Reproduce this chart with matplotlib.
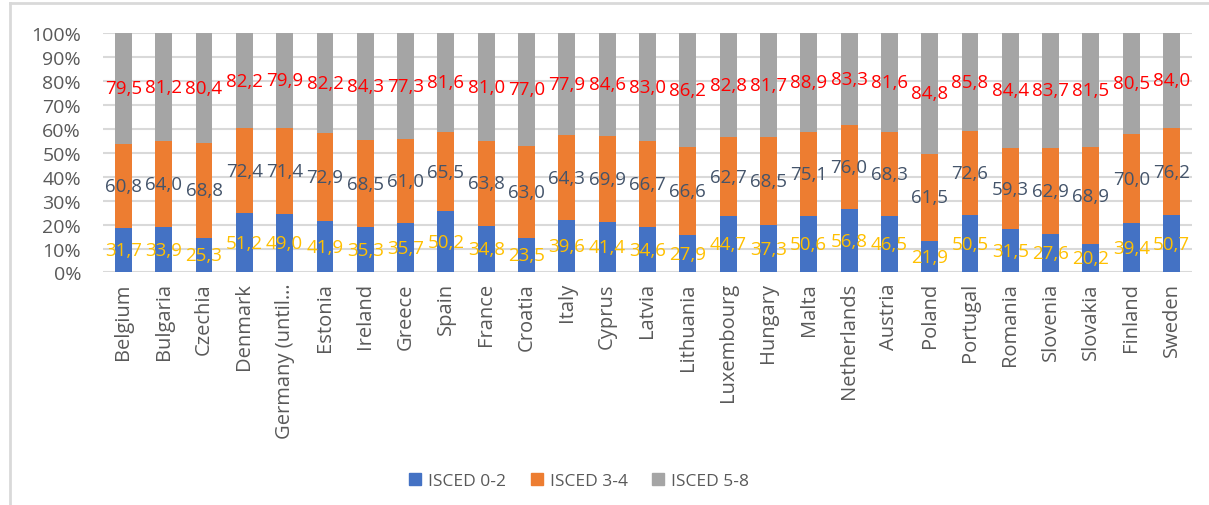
import numpy as np
import matplotlib.pyplot as plt
from matplotlib.lines import Line2D

countries = ["Belgium", "Bulgaria", "Czechia", "Denmark", "Germany (until…", "Estonia",
             "Ireland", "Greece", "Spain", "France", "Croatia", "Italy", "Cyprus",
             "Latvia", "Lithuania", "Luxembourg", "Hungary", "Malta", "Netherlands",
             "Austria", "Poland", "Portugal", "Romania", "Slovenia", "Slovakia",
             "Finland", "Sweden"]

isced_0_2 = [31.7, 33.9, 25.3, 51.2, 49.0, 41.9, 35.3, 35.7, 50.2, 34.8, 23.5, 39.6, 41.4,
             34.6, 27.9, 44.7, 37.3, 50.6, 56.8, 46.5, 21.9, 50.5, 31.5, 27.6, 20.2, 39.4, 50.7]
isced_3_4 = [60.8, 64.0, 68.8, 72.4, 71.4, 72.9, 68.5, 61.0, 65.5, 63.8, 63.0, 64.3, 69.9,
             66.7, 66.6, 62.7, 68.5, 75.1, 76.0, 68.3, 61.5, 72.6, 59.3, 62.9, 68.9, 70.0, 76.2]
isced_5_8 = [79.5, 81.2, 80.4, 82.2, 79.9, 82.2, 84.3, 77.3, 81.6, 81.0, 77.0, 77.9, 84.6,
             83.0, 86.2, 82.8, 81.7, 88.9, 83.3, 81.6, 84.8, 85.8, 84.4, 83.7, 81.5, 80.5, 84.0]

series_names = ["ISCED 0-2", "ISCED 3-4", "ISCED 5-8"]
bar_colors = ["#4472C4", "#ED7D31", "#A5A5A5"]
label_colors = ["#FFC000", "#44546A", "#FF0000"]

plt.rcParams["font.family"] = ["Open Sans", "DejaVu Sans"]
TXT = "#595959"

fig = plt.figure(figsize=(12.09, 5.06), dpi=100)
ax = fig.add_axes([0.0854, 0.4595, 0.9003, 0.474])

data = np.array([isced_0_2, isced_3_4, isced_5_8])
totals = data.sum(axis=0)
shares = data / totals
x = np.arange(len(countries))

bottom = np.zeros(len(countries))
for vals, share, name, bc, lc in zip(data, shares, series_names, bar_colors, label_colors):
    ax.bar(x, share, 0.42, bottom=bottom, color=bc, label=name, zorder=2)
    for xi, b, s, v in zip(x, bottom, share, vals):
        ax.text(xi, b + s / 2, f"{v:.1f}".replace(".", ","), color=lc,
                ha="center", va="center", fontsize=13.5, zorder=3)
    bottom += share

ax.set_xlim(-0.5, len(countries) - 0.5)
ax.set_ylim(0, 1)
ticks = np.arange(0, 1.01, 0.1)
ax.set_yticks(ticks)
ax.set_yticklabels([f"{int(round(t * 100))}%" for t in ticks])
ax.set_xticks(x)
ax.set_xticklabels(countries, rotation=90)
ax.tick_params(axis="y", length=0, labelsize=14, labelcolor=TXT, pad=16)
ax.tick_params(axis="x", length=0, labelsize=14.5, labelcolor=TXT, pad=7)
ax.grid(axis="y", color="#D9D9D9", linewidth=1.5, zorder=0)
for sp in ax.spines.values():
    sp.set_visible(False)

handles = [plt.Rectangle((0, 0), 1, 1, color=c) for c in bar_colors]
leg = fig.legend(handles, series_names, loc="center", bbox_to_anchor=(0.479, 0.047),
                 ncol=3, frameon=False, fontsize=12.5, handlelength=0.7, handleheight=0.7,
                 columnspacing=1.4, handletextpad=0.4)
for t in leg.get_texts():
    t.set_color(TXT)

# chart area border (left and top edges)
fig.add_artist(Line2D([0.0085, 0.0085], [0, 0.993], color="#D9D9D9", lw=2))
fig.add_artist(Line2D([0.0085, 1], [0.993, 0.993], color="#D9D9D9", lw=2))

fig.savefig("out.png", dpi=100)
